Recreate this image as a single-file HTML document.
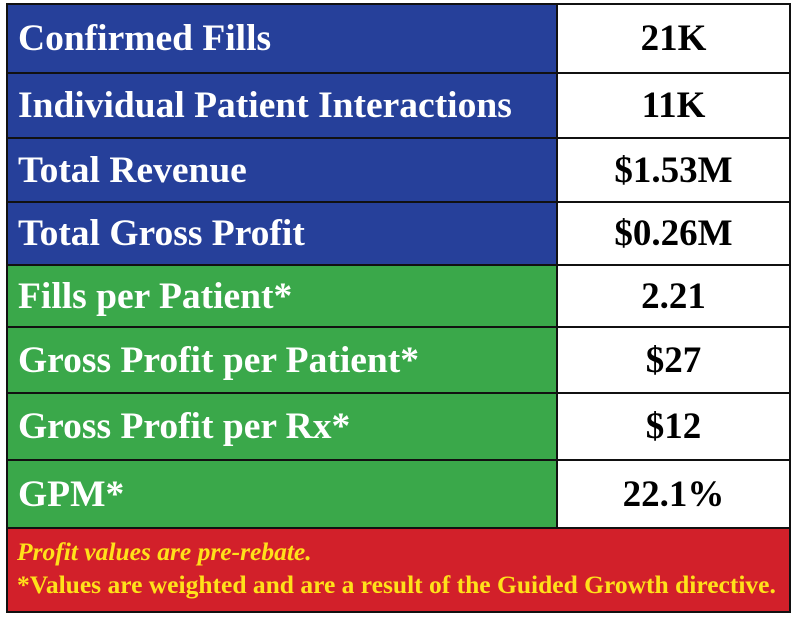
<!DOCTYPE html>
<html><head><meta charset="utf-8"><style>
body{margin:0;width:800px;height:619px;background:#fff;position:relative;overflow:hidden;font-family:"Liberation Serif",serif;font-weight:bold}
.c{position:absolute;box-sizing:border-box;display:flex;align-items:center}
.l{left:7px;width:550px;color:#fff;font-size:37.5px;padding-left:11px}
.r{left:557px;width:233px;background:#fff;color:#000;font-size:37px;justify-content:center}
.b{background:#26409a}.g{background:#3aa84a}
.line{position:absolute;background:#111}
</style></head><body>
<div>
<div class="c l b" style="top:4px;height:69px">Confirmed Fills</div>
<div class="c r" style="top:4px;height:69px">21K</div>
<div class="c l b" style="top:73px;height:65px">Individual Patient Interactions</div>
<div class="c r" style="top:73px;height:65px">11K</div>
<div class="c l b" style="top:138px;height:64px">Total Revenue</div>
<div class="c r" style="top:138px;height:64px">$1.53M</div>
<div class="c l b" style="top:202px;height:63px">Total Gross Profit</div>
<div class="c r" style="top:202px;height:63px">$0.26M</div>
<div class="c l g" style="top:265px;height:62px">Fills per Patient*</div>
<div class="c r" style="top:265px;height:62px">2.21</div>
<div class="c l g" style="top:327px;height:66px">Gross Profit per Patient*</div>
<div class="c r" style="top:327px;height:66px">$27</div>
<div class="c l g" style="top:393px;height:67px">Gross Profit per Rx*</div>
<div class="c r" style="top:393px;height:67px">$12</div>
<div class="c l g" style="top:460px;height:68px">GPM*</div>
<div class="c r" style="top:460px;height:68px">22.1%</div>
<div style="position:absolute;left:7px;top:528px;width:783px;height:84px;background:#d2202a;color:#ffe11a;font-size:25.5px;padding:7px 0 0 10px;box-sizing:border-box;line-height:33px">
<div style="font-style:italic">Profit values are pre-rebate.</div>
<div style="white-space:nowrap">*Values are weighted and are a result of the Guided Growth directive.</div>
</div>
<div class="line" style="left:6px;top:3px;width:785px;height:2px"></div>
<div class="line" style="left:6px;top:611px;width:785px;height:2px"></div>
<div class="line" style="left:6px;top:3px;width:2px;height:610px"></div>
<div class="line" style="left:789px;top:3px;width:2px;height:610px"></div>
<div class="line" style="left:556px;top:3px;width:2px;height:526px"></div>
<div class="line" style="left:6px;top:72px;width:785px;height:2px"></div>
<div class="line" style="left:6px;top:137px;width:785px;height:2px"></div>
<div class="line" style="left:6px;top:201px;width:785px;height:2px"></div>
<div class="line" style="left:6px;top:264px;width:785px;height:2px"></div>
<div class="line" style="left:6px;top:326px;width:785px;height:2px"></div>
<div class="line" style="left:6px;top:392px;width:785px;height:2px"></div>
<div class="line" style="left:6px;top:459px;width:785px;height:2px"></div>
<div class="line" style="left:6px;top:527px;width:785px;height:2px"></div>
</div>
</body></html>
